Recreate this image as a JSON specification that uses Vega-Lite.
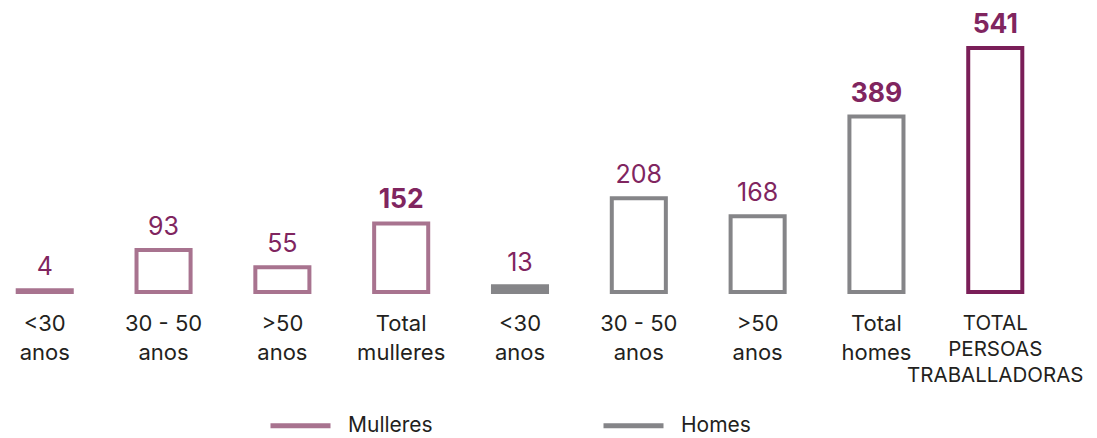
{
  "$schema": "https://vega.github.io/schema/vega-lite/v6.json",
  "autosize": {"type": "none"},
  "padding": {"left": 0, "top": 0, "right": 57, "bottom": 146},
  "width": 1040,
  "height": 292,
  "background": "white",
  "config": {"view": {"stroke": null}, "font": "Inter"},
  "data": {
    "values": [
      {"id": "1", "grupo": "Mulleres", "valor": 4, "total": false},
      {"id": "2", "grupo": "Mulleres", "valor": 93, "total": false},
      {"id": "3", "grupo": "Mulleres", "valor": 55, "total": false},
      {"id": "4", "grupo": "Mulleres", "valor": 152, "total": true},
      {"id": "5", "grupo": "Homes", "valor": 13, "total": false},
      {"id": "6", "grupo": "Homes", "valor": 208, "total": false},
      {"id": "7", "grupo": "Homes", "valor": 168, "total": false},
      {"id": "8", "grupo": "Homes", "valor": 389, "total": true},
      {"id": "9", "grupo": "Total", "valor": 541, "total": true}
    ]
  },
  "encoding": {
    "x": {
      "field": "id",
      "type": "nominal",
      "sort": null,
      "scale": {"paddingInner": 0.545, "paddingOuter": 0.149},
      "axis": {
        "title": null,
        "domain": false,
        "ticks": false,
        "labelAngle": 0,
        "labelBaseline": "top",
        "labelPadding": 21,
        "labelFontSize": {"expr": "datum.value == '9' ? 20.5 : 22"},
        "labelLineHeight": {"expr": "datum.value == '9' ? 26 : 29"},
        "labelColor": "#231f20",
        "labelLimit": 300,
        "labelExpr": "{'1': ['<30', 'anos'], '2': ['30 - 50', 'anos'], '3': ['>50', 'anos'], '4': ['Total', 'mulleres'], '5': ['<30', 'anos'], '6': ['30 - 50', 'anos'], '7': ['>50', 'anos'], '8': ['Total', 'homes'], '9': ['TOTAL', 'PERSOAS', 'TRABALLADORAS']}[datum.value]"
      }
    },
    "y": {
      "field": "valor",
      "type": "quantitative",
      "scale": {"domain": [0, 647.4], "nice": false},
      "axis": null
    }
  },
  "layer": [
    {
      "mark": {"type": "bar", "strokeWidth": 4},
      "encoding": {
        "stroke": {
          "field": "grupo",
          "type": "nominal",
          "scale": {"domain": ["Mulleres", "Homes", "Total"], "range": ["#a8738f", "#858588", "#7a1e58"]},
          "legend": {
            "values": ["Mulleres", "Homes"],
            "title": null,
            "orient": "none",
            "direction": "horizontal",
            "legendX": 268,
            "legendY": 393,
            "symbolType": "stroke",
            "symbolSize": 3600,
            "symbolStrokeWidth": 5,
            "labelFontSize": 21,
            "labelColor": "#231f20",
            "labelOffset": 15,
            "columnPadding": 160
          }
        },
        "fill": {
          "condition": {
            "test": "datum.valor < 20",
            "field": "grupo",
            "type": "nominal",
            "scale": {"domain": ["Mulleres", "Homes", "Total"], "range": ["#a8738f", "#858588", "#7a1e58"]}
          },
          "value": "white"
        }
      }
    },
    {
      "transform": [{"filter": "!datum.total"}],
      "mark": {"type": "text", "dy": -15, "baseline": "alphabetic", "fontSize": 25, "color": "#80255f"},
      "encoding": {"text": {"field": "valor", "type": "quantitative"}}
    },
    {
      "transform": [{"filter": "datum.total"}],
      "mark": {"type": "text", "dy": -15, "baseline": "alphabetic", "fontSize": 26.5, "fontWeight": "bold", "color": "#80255f"},
      "encoding": {"text": {"field": "valor", "type": "quantitative"}}
    }
  ]
}
